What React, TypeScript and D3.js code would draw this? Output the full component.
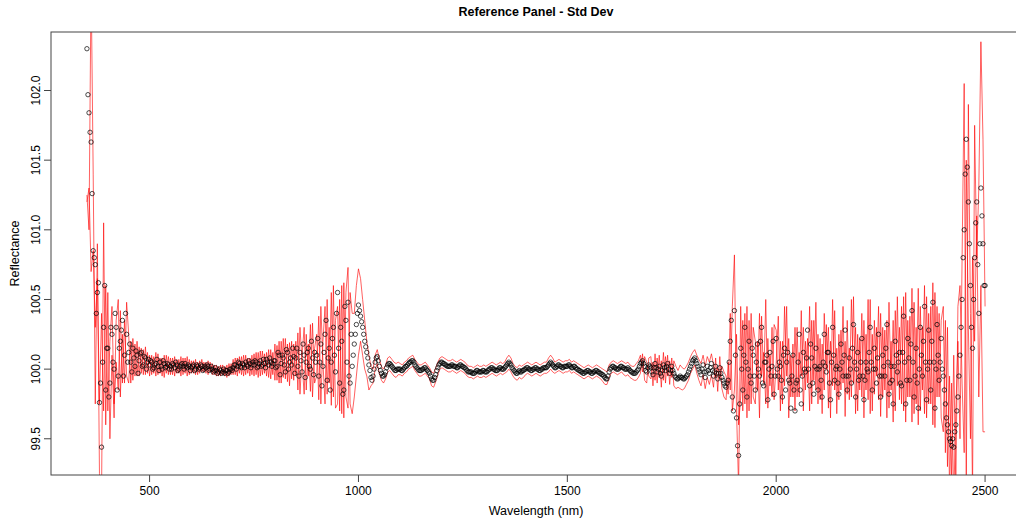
import React from "react";
import * as d3 from "d3";

// Wavelength grid: first wavelength and step (nm)
const WL_START = 350;
const WL_STEP = 5;
const WL_MID_START = 352.5; // second set of readings, half-way between

// Mean reflectance (black circles) at 350, 355, ... 2500 nm
const meanRefl = [
  102.30,101.84,101.63,100.85,100.75,100.55,99.76,99.44,100.30,99.85,
  100.15,99.90,100.25,100.00,100.30,99.95,100.20,100.35,100.10,100.25,
  100.12,100.05,100.15,100.02,100.10,100.06,100.12,100.03,100.08,100.05,
  100.03,100.05,100.01,100.04,100.02,100.05,100.00,100.04,100.02,100.03,
  100.02,100.04,100.01,100.03,100.00,100.03,100.02,100.04,100.01,100.02,
  100.01,100.03,100.00,100.02,100.01,100.02,100.00,100.01,100.02,100.00,
  100.00,99.99,99.99,99.98,99.99,99.98,99.97,99.99,99.98,100.00,
  100.01,100.03,100.02,100.04,100.01,100.03,100.05,100.02,100.04,100.03,
  100.03,100.05,100.02,100.06,100.03,100.04,100.07,100.03,100.05,100.04,
  100.06,100.02,100.10,100.04,100.08,99.98,100.12,100.05,100.03,100.09,
  100.08,100.02,100.12,99.98,100.10,100.05,100.15,100.00,100.08,100.12,
  100.10,99.95,100.18,100.02,100.25,99.92,100.15,100.05,100.30,99.98,
  100.55,99.90,100.20,99.85,100.35,100.48,99.90,100.02,100.18,100.32,
  100.46,100.38,100.30,100.20,100.12,100.03,99.94,99.95,100.05,100.09,
  100.02,99.97,99.95,99.98,100.03,100.04,100.02,100.00,99.99,100.00,
  100.00,99.99,100.01,100.02,100.04,100.05,100.06,100.03,100.01,99.99,
  99.99,100.00,100.01,99.99,99.97,99.93,99.92,99.96,100.01,100.04,
  100.05,100.04,100.03,100.02,100.02,100.03,100.02,100.01,100.02,100.03,
  100.02,100.01,99.99,99.98,99.98,99.97,99.98,99.99,99.98,99.98,
  99.99,99.98,99.99,100.00,100.01,100.00,99.99,100.00,100.01,100.00,
  100.01,100.03,100.05,100.03,100.00,99.98,99.97,99.99,99.98,99.99,
  100.00,100.01,100.00,99.99,100.00,100.01,100.00,99.99,100.00,100.01,
  100.01,100.03,100.05,100.03,100.01,100.02,100.03,100.02,100.01,100.02,
  100.02,100.03,100.01,100.02,100.01,100.00,99.99,99.98,99.97,99.98,
  99.99,99.98,99.97,99.98,99.99,99.98,99.97,99.96,99.94,99.93,
  99.98,100.01,100.02,100.01,100.00,100.01,100.02,100.01,100.00,100.01,
  99.99,99.98,99.97,99.98,100.00,100.04,100.06,100.02,99.98,100.03,
  100.01,99.96,100.04,99.98,100.02,99.95,100.03,99.99,100.04,99.97,
  100.02,99.97,99.94,99.93,99.95,99.94,99.93,99.95,99.98,100.02,
  100.06,100.08,100.04,100.00,99.96,100.03,99.94,100.02,99.97,100.04,
  99.95,100.02,99.93,100.01,99.94,99.90,99.87,99.92,100.20,99.80,
  100.42,99.65,99.38,100.15,99.85,100.30,99.80,100.20,99.90,100.10,
  99.85,100.18,99.95,100.30,99.88,100.05,99.78,100.12,100.02,99.82,
  100.22,99.95,100.02,99.80,100.15,100.05,99.92,99.72,100.10,99.70,
  99.92,100.25,99.75,100.12,99.98,100.28,99.88,100.08,99.82,100.15,
  99.85,100.02,99.80,100.25,99.98,100.12,99.78,100.30,99.92,100.02,
  99.82,100.18,99.95,100.28,99.85,100.08,99.90,100.32,99.80,100.12,
  99.95,100.22,99.78,100.05,99.98,100.30,99.85,100.15,99.90,100.25,
  99.80,100.10,99.95,100.32,99.82,100.02,99.75,100.20,99.98,100.12,
  99.88,100.38,99.75,100.22,99.92,100.42,99.80,100.15,99.72,100.30,
  99.95,100.45,99.78,100.28,99.85,100.48,99.72,100.32,99.92,100.22,
  99.95,99.75,99.60,99.50,99.45,99.44,99.60,99.80,100.10,100.50,
  101.00,101.65,101.20,100.60,100.15,100.80,101.20,100.40,101.30,100.90,
  100.60,
];

// Mean reflectance (black circles) at 352.5, 357.5, ... 2497.5 nm
const meanReflMid = [
  101.97,101.70,101.26,100.80,100.40,100.62,99.90,100.05,100.60,100.15,
  99.80,100.30,100.05,100.40,99.85,100.15,100.28,99.95,100.40,100.05,
  100.18,99.98,100.08,100.13,99.97,100.11,100.02,100.09,100.00,100.07,
  100.06,100.00,100.03,100.07,99.99,100.02,100.06,100.01,100.04,100.00,
  100.00,100.03,100.05,99.99,100.02,100.04,100.00,100.02,100.03,99.99,
  100.02,99.99,100.03,100.00,100.03,99.99,100.02,100.03,99.99,100.02,
  99.98,100.01,99.97,100.00,99.97,100.00,99.99,99.97,100.00,99.99,
  100.03,100.00,100.05,100.02,100.04,100.01,100.03,100.06,100.01,100.05,
  100.06,100.01,100.04,100.02,100.07,100.01,100.05,100.08,100.02,100.06,
  100.01,100.12,99.96,100.10,100.03,100.14,100.00,100.08,100.15,99.97,
  100.15,99.95,100.06,100.18,99.94,100.12,100.02,100.20,99.96,100.05,
  100.22,100.05,99.88,100.12,100.35,100.08,99.85,100.22,100.10,100.40,
  100.15,100.30,99.82,100.45,100.05,99.95,100.25,100.10,100.25,100.40,
  100.42,100.34,100.25,100.16,100.08,99.99,99.92,100.00,100.08,100.06,
  99.99,99.95,99.96,100.01,100.04,100.03,100.01,99.99,100.00,100.00,
  99.99,100.00,100.02,100.03,100.05,100.06,100.05,100.02,100.00,99.99,
  100.00,100.01,100.00,99.98,99.95,99.92,99.94,99.99,100.03,100.05,
  100.04,100.03,100.02,100.02,100.03,100.02,100.02,100.01,100.03,100.02,
  100.01,100.00,99.98,99.98,99.97,99.97,99.99,99.98,99.98,99.99,
  99.98,99.98,100.00,100.01,100.00,99.99,99.99,100.01,100.00,100.00,
  100.02,100.04,100.04,100.01,99.99,99.97,99.98,99.98,99.99,100.00,
  100.01,100.00,99.99,100.00,100.01,100.00,99.99,100.00,100.01,100.01,
  100.02,100.04,100.04,100.02,100.01,100.03,100.02,100.01,100.02,100.02,
  100.03,100.02,100.01,100.02,100.00,99.99,99.98,99.97,99.98,99.99,
  99.98,99.97,99.98,99.99,99.98,99.97,99.96,99.95,99.93,99.95,
  100.00,100.02,100.01,100.00,100.00,100.02,100.01,100.00,100.00,100.00,
  99.98,99.97,99.97,99.99,100.02,100.05,100.04,99.99,100.01,100.02,
  99.98,100.01,100.01,100.00,99.97,99.99,100.01,100.02,100.00,99.99,
  99.99,99.95,99.93,99.94,99.94,99.93,99.94,99.96,100.00,100.04,
  100.07,100.06,100.02,99.98,100.00,99.98,99.98,99.99,100.01,99.99,
  99.98,99.97,99.97,99.97,99.92,99.88,99.90,100.05,100.35,99.70,
  100.10,99.45,99.75,100.00,100.10,100.05,100.00,99.95,100.15,99.95,
  100.05,100.00,100.20,99.90,100.05,100.10,100.00,99.95,100.20,99.95,
  100.00,100.05,99.92,100.10,99.85,100.12,99.90,99.95,99.85,99.90,
  100.05,99.85,99.95,100.00,100.08,100.00,100.18,99.90,100.02,100.00,
  100.00,99.92,100.05,100.02,100.12,99.90,100.05,100.10,100.00,99.90,
  100.00,100.05,100.10,99.95,99.95,100.00,100.15,100.05,100.00,99.92,
  100.05,99.95,99.92,100.00,100.12,100.05,100.00,100.00,100.08,99.95,
  99.95,100.02,100.15,100.05,99.90,99.92,100.02,100.10,100.05,99.90,
  100.12,100.05,99.92,100.08,100.18,100.05,99.95,99.90,100.00,100.10,
  100.20,100.05,100.00,100.05,100.20,100.05,100.00,100.10,100.05,100.00,
  99.85,99.65,99.55,99.48,99.50,99.55,99.70,99.95,100.30,100.80,
  101.40,101.45,100.90,100.30,100.50,101.05,100.75,100.90,101.10,100.60,
];

// First red line at 350, 355, ... 2500 nm
const redA = [
  101.25,101.00,102.80,101.40,99.75,100.90,99.25,99.10,101.05,99.60,
  100.55,99.50,100.10,99.65,100.35,100.50,99.80,100.25,99.90,100.48,
  100.25,99.90,100.22,99.95,100.20,99.95,100.15,99.96,100.16,99.97,
  100.10,99.96,100.09,99.95,100.11,99.97,100.08,99.94,100.10,99.96,
  100.08,99.96,100.09,99.97,100.07,99.95,100.08,99.97,100.09,99.96,
  100.06,99.97,100.07,99.96,100.06,99.98,100.05,99.97,100.06,99.98,
  100.04,99.96,100.03,99.95,100.03,99.96,100.02,99.94,100.04,99.96,
  100.07,99.96,100.08,99.97,100.09,99.95,100.10,99.97,100.08,99.96,
  100.11,99.96,100.12,99.95,100.13,99.97,100.12,99.94,100.14,99.96,
  100.18,99.92,100.20,99.90,100.22,99.93,100.18,99.88,100.20,99.92,
  100.20,99.85,100.30,100.05,99.82,100.25,99.95,100.32,99.80,100.15,
  100.25,99.78,100.45,100.05,99.75,100.50,99.90,100.55,99.80,100.35,
  100.45,99.70,100.60,99.65,100.55,100.73,99.75,99.68,99.80,99.95,
  100.10,100.20,100.10,100.00,99.95,99.85,99.88,99.90,100.00,100.04,
  99.97,99.92,99.90,99.93,99.98,99.99,99.97,99.95,99.94,99.96,
  99.96,99.95,99.97,99.98,100.00,100.01,100.02,99.99,99.97,99.95,
  99.95,99.96,99.97,99.95,99.93,99.88,99.87,99.91,99.96,100.00,
  100.01,100.00,99.99,99.98,99.98,99.99,99.98,99.97,99.98,99.99,
  99.98,99.97,99.95,99.94,99.94,99.93,99.94,99.95,99.94,99.94,
  99.95,99.94,99.95,99.96,99.97,99.96,99.95,99.96,99.97,99.96,
  99.97,99.98,100.00,99.98,99.95,99.93,99.92,99.94,99.93,99.94,
  99.96,99.97,99.96,99.95,99.96,99.97,99.96,99.95,99.96,99.97,
  99.97,99.98,100.00,99.98,99.97,99.98,99.99,99.98,99.97,99.98,
  99.98,99.99,99.97,99.98,99.97,99.96,99.95,99.94,99.93,99.94,
  99.95,99.94,99.93,99.94,99.95,99.94,99.93,99.91,99.89,99.89,
  99.94,99.97,99.98,99.97,99.96,99.97,99.98,99.96,99.95,99.96,
  99.94,99.93,99.92,99.92,99.94,99.97,100.11,99.92,99.90,100.08,
  100.09,99.88,100.11,99.90,100.10,99.87,100.12,99.90,100.10,99.89,
  100.08,99.88,99.86,99.87,99.86,99.85,99.86,99.89,99.92,99.97,
  100.00,100.03,99.97,99.92,99.88,99.96,99.86,99.94,99.89,99.96,
  99.87,100.08,99.84,100.09,99.86,99.80,99.78,100.05,99.85,100.45,
  100.82,99.70,99.15,100.45,99.70,100.40,99.65,100.35,99.75,100.30,
  100.20,99.85,100.40,99.95,100.12,99.75,100.22,99.88,100.30,99.78,
  100.05,100.38,99.70,100.20,99.88,100.45,99.65,100.10,99.80,100.30,
  99.80,100.12,99.95,100.30,99.85,100.22,99.70,100.35,99.92,100.48,
  99.75,100.22,99.68,100.40,100.00,100.30,99.65,100.50,99.85,100.15,
  99.78,100.28,99.90,100.20,99.82,100.15,99.80,100.52,99.68,100.25,
  99.85,100.40,99.65,100.25,99.78,100.50,99.70,100.35,99.95,100.45,
  99.66,100.30,99.85,100.35,99.72,100.20,99.62,100.42,99.88,100.30,
  99.75,100.52,99.62,100.35,99.80,100.58,99.68,100.30,99.60,100.45,
  99.85,100.60,99.65,100.40,99.75,100.62,99.58,100.45,99.80,100.35,
  100.45,99.40,100.30,99.10,99.90,99.05,99.70,100.20,99.50,100.80,
  102.05,99.10,101.90,100.40,99.10,101.75,100.80,101.30,102.35,101.65,
  100.45,
];

// Second red line at 350, 355, ... 2500 nm
const redB = [
  101.20,101.30,100.70,100.85,100.30,100.65,99.75,100.40,99.70,100.60,
  99.70,100.20,100.45,99.75,100.05,99.85,100.42,99.90,100.35,99.95,
  99.90,100.20,99.92,100.18,99.95,100.16,99.97,100.14,99.96,100.12,
  99.95,100.10,99.97,100.12,99.96,100.08,99.95,100.10,99.97,100.09,
  99.96,100.08,99.95,100.07,99.97,100.09,99.96,100.08,99.95,100.07,
  99.97,100.06,99.96,100.05,99.97,100.07,99.98,100.05,99.96,100.05,
  99.96,100.03,99.95,100.02,99.95,100.03,99.95,100.03,99.95,100.04,
  99.96,100.08,99.95,100.09,99.96,100.10,99.96,100.08,99.95,100.10,
  99.95,100.12,99.94,100.13,99.96,100.11,99.95,100.14,99.93,100.12,
  99.92,100.17,99.90,100.20,99.94,100.22,99.91,100.19,99.93,100.18,
  99.95,100.26,99.82,100.10,100.30,99.85,100.18,99.84,100.33,99.90,
  99.95,100.38,99.75,100.20,100.45,99.82,100.30,99.74,100.60,99.72,
  99.75,100.50,99.68,100.62,99.80,99.72,100.55,100.40,100.40,100.60,
  100.72,100.65,100.50,100.35,100.20,100.10,100.02,100.00,100.10,100.14,
  100.07,100.02,100.00,100.03,100.08,100.09,100.07,100.05,100.04,100.05,
  100.04,100.03,100.05,100.06,100.08,100.09,100.10,100.07,100.05,100.03,
  100.03,100.04,100.05,100.03,100.01,99.98,99.97,100.01,100.05,100.08,
  100.09,100.08,100.07,100.06,100.06,100.07,100.06,100.05,100.06,100.07,
  100.06,100.05,100.03,100.02,100.02,100.01,100.02,100.03,100.02,100.02,
  100.03,100.02,100.03,100.04,100.05,100.04,100.03,100.04,100.05,100.04,
  100.05,100.08,100.10,100.08,100.04,100.02,100.01,100.03,100.02,100.03,
  100.04,100.05,100.04,100.03,100.04,100.05,100.04,100.03,100.04,100.05,
  100.05,100.08,100.10,100.08,100.05,100.06,100.07,100.06,100.05,100.06,
  100.06,100.07,100.05,100.06,100.05,100.04,100.03,100.02,100.01,100.02,
  100.03,100.02,100.01,100.02,100.03,100.02,100.01,100.00,99.99,99.98,
  100.03,100.05,100.06,100.05,100.04,100.05,100.06,100.05,100.04,100.05,
  100.03,100.02,100.02,100.04,100.06,100.10,99.98,100.09,100.05,99.95,
  99.93,100.05,99.92,100.08,99.94,100.06,99.92,100.09,99.95,100.06,
  99.94,100.06,100.02,99.99,100.03,100.01,100.00,100.02,100.05,100.09,
  100.12,100.14,100.10,100.07,100.04,100.10,100.02,100.09,100.05,100.11,
  100.03,99.94,100.01,99.93,100.02,99.98,99.95,99.82,100.40,99.70,
  99.85,100.25,99.60,99.80,100.35,99.75,100.45,99.70,100.40,99.80,
  99.75,100.20,99.65,100.38,99.90,100.50,99.72,100.10,99.80,100.32,
  100.28,99.85,100.20,99.75,100.45,99.95,100.22,99.80,100.18,99.70,
  100.30,99.80,100.42,99.70,100.20,99.90,100.45,99.75,100.35,99.85,
  100.25,99.78,100.18,99.85,100.32,99.72,100.20,99.88,100.42,99.68,
  100.25,99.85,100.45,99.66,100.35,99.78,100.50,99.90,100.30,99.70,
  100.22,99.80,100.35,99.85,100.50,99.68,100.25,99.82,100.30,99.78,
  100.40,99.80,100.28,99.65,100.48,99.85,100.35,99.70,100.52,99.78,
  100.45,99.70,100.55,99.80,100.38,99.62,100.48,99.75,100.58,99.70,
  100.30,99.68,100.52,99.75,100.45,99.60,100.55,99.80,100.40,99.65,
  99.55,100.35,99.30,99.95,99.20,100.10,99.15,100.45,100.60,99.90,
  99.40,101.50,100.30,99.50,100.80,100.20,101.10,99.80,100.60,99.55,
  99.55,
];

const xTicks = [500, 1000, 1500, 2000, 2500];
const yTicks = [99.5, 100.0, 100.5, 101.0, 101.5, 102.0];
const TITLE = "Reference Panel - Std Dev";
const X_LABEL = "Wavelength (nm)";
const Y_LABEL = "Reflectance";

const W = 1016;
const H = 523;
const PL = 51, PR = 1021, PT = 32, PB = 475;
const FONT = "'Liberation Sans', Arial, Helvetica, sans-serif";

export default function App() {
  const x = d3.scaleLinear().domain([264, 2586]).range([PL, PR]);
  const y = d3.scaleLinear().domain([99.24, 102.42]).range([PB, PT]);

  const points = [
    ...meanRefl.map((v, i) => ({ w: WL_START + i * WL_STEP, v })),
    ...meanReflMid.map((v, i) => ({ w: WL_MID_START + i * WL_STEP, v })),
  ];

  const line = d3
    .line<number>()
    .x((_, i) => x(WL_START + i * WL_STEP))
    .y((d) => y(d));

  return (
    <svg
      width={W}
      height={H}
      style={{ position: "absolute", left: 0, top: 0, background: "#fff" }}
      fontFamily={FONT}
    >
      <defs>
        <clipPath id="plotClip">
          <rect x={PL} y={PT} width={PR - PL} height={PB - PT} />
        </clipPath>
      </defs>
      <rect x={0} y={0} width={W} height={H} fill="#fff" />
      <g clipPath="url(#plotClip)">
        <path d={line(redA) || ""} fill="none" stroke="#ff0000" strokeWidth={0.8} strokeOpacity={0.78} />
        <path d={line(redB) || ""} fill="none" stroke="#ff0000" strokeWidth={0.8} strokeOpacity={0.78} />
        {points.map((p, i) => (
          <circle
            key={i}
            cx={x(p.w)}
            cy={y(p.v)}
            r={2.2}
            fill="none"
            stroke="#000"
            strokeWidth={0.7}
          />
        ))}
      </g>
      <rect x={PL} y={PT} width={PR - PL} height={PB - PT} fill="none" stroke="#444" strokeWidth={1} />
      {/* x axis */}
      <g>
        {xTicks.map((t) => (
          <g key={t}>
            <line x1={x(t)} x2={x(t)} y1={PB} y2={PB + 7} stroke="#444" />
            <text x={x(t)} y={PB + 20} textAnchor="middle" fontSize={12} fill="#000">
              {t}
            </text>
          </g>
        ))}
      </g>
      {/* y axis */}
      <g>
        {yTicks.map((t) => (
          <g key={t}>
            <line x1={PL - 7} x2={PL} y1={y(t)} y2={y(t)} stroke="#444" />
            <text
              x={PL - 11}
              y={y(t)}
              textAnchor="middle"
              fontSize={12}
              fill="#000"
              transform={`rotate(-90, ${PL - 11}, ${y(t)})`}
            >
              {t.toFixed(1)}
            </text>
          </g>
        ))}
      </g>
      <text x={(PL + PR) / 2} y={16} textAnchor="middle" fontSize={12.5} fontWeight="bold" fill="#000">
        {TITLE}
      </text>
      <text x={(PL + PR) / 2} y={515} textAnchor="middle" fontSize={12.5} fill="#000">
        {X_LABEL}
      </text>
      <text
        x={19}
        y={(PT + PB) / 2}
        textAnchor="middle"
        fontSize={12.5}
        fill="#000"
        transform={`rotate(-90, 19, ${(PT + PB) / 2})`}
      >
        {Y_LABEL}
      </text>
    </svg>
  );
}
